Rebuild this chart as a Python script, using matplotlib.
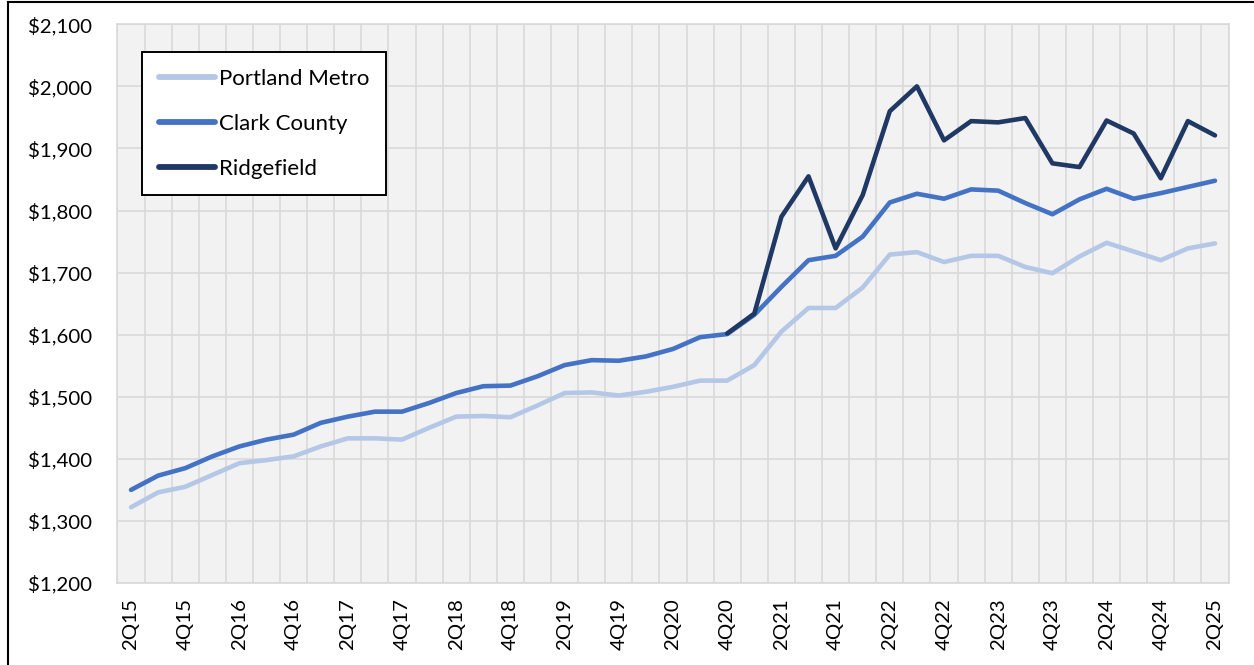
import matplotlib
matplotlib.use("Agg")
import matplotlib.pyplot as plt
from matplotlib.lines import Line2D
from matplotlib.ticker import FuncFormatter

plt.rcParams['font.family'] = ['Lato', 'DejaVu Sans']

# quarters 2Q15 .. 2Q25
quarters = []
for yr in range(15, 26):
    for q in range(1, 5):
        if (yr == 15 and q < 2) or (yr == 25 and q > 2):
            continue
        quarters.append(f"{q}Q{yr}")

portland = [1322, 1346, 1355, 1374, 1393, 1398, 1404, 1420, 1433, 1433,
            1431, 1450, 1468, 1469, 1467, 1486, 1506, 1507, 1502, 1508,
            1516, 1526, 1526, 1551, 1605, 1643, 1643, 1676, 1729, 1733,
            1717, 1727, 1727, 1709, 1699, 1726, 1748, 1734, 1720, 1739,
            1747]
clark = [1350, 1373, 1385, 1404, 1420, 1431, 1439, 1458, 1468, 1476,
         1476, 1490, 1506, 1517, 1518, 1533, 1551, 1559, 1558, 1565,
         1577, 1596, 1601, 1632, 1677, 1720, 1727, 1758, 1813, 1827,
         1819, 1834, 1832, 1812, 1794, 1818, 1835, 1819, 1828, 1838,
         1848]
# Ridgefield series starts at 4Q20
ridgefield = [1602, 1634, 1790, 1855, 1739, 1825, 1960, 2000, 1913, 1944,
              1942, 1949, 1876, 1870, 1945, 1924, 1852, 1944, 1921]

series = [("Portland Metro", portland, "#B4C7E7"),
          ("Clark County", clark, "#4472C4"),
          ("Ridgefield", ridgefield, "#203864")]

fig = plt.figure(figsize=(12.54, 6.65), dpi=100)
ax = fig.add_axes([0.0937, 0.1233, 0.886, 0.8402])
ax.set_facecolor("#F2F2F2")

x_all = list(range(len(quarters)))
for name, vals, col in series:
    xs = x_all[len(quarters) - len(vals):]
    ax.plot(xs, vals, color=col, lw=3.3, label=name,
            solid_capstyle='round', solid_joinstyle='round', zorder=3)

ax.set_xlim(-0.5, len(quarters) - 0.5)
ax.set_ylim(1200, 2100)
ax.set_yticks(range(1200, 2101, 100))
ax.yaxis.set_major_formatter(FuncFormatter(lambda v, p: f"${v:,.0f}"))

ax.set_xticks(x_all[::2])
ax.set_xticklabels(quarters[::2], rotation=90)
ax.set_xticks([i - 0.5 for i in range(len(quarters) + 1)], minor=True)

ax.grid(axis='y', which='major', color="#D9D9D9", lw=1.2)
ax.grid(axis='x', which='minor', color="#D9D9D9", lw=1.2)
ax.set_axisbelow(True)
ax.tick_params(axis='both', which='both', length=0)
ax.tick_params(axis='y', labelsize=14.7, pad=18)
ax.tick_params(axis='x', labelsize=14.7, pad=11)
for s in ax.spines.values():
    s.set_color("#D9D9D9")
    s.set_linewidth(1.2)

leg = ax.legend(loc='upper left', bbox_to_anchor=(0.022, 0.95),
                borderaxespad=0, fontsize=16, handlelength=2.55,
                handletextpad=0.18, borderpad=0.75, labelspacing=1.12,
                fancybox=False, framealpha=1, edgecolor='black')
leg.get_frame().set_linewidth(1.4)
for h in leg.get_lines():
    h.set_linewidth(4.2)

# outer chart border (left and top)
fig.add_artist(Line2D([8 / 1254, 8 / 1254], [0, 1 - 2 / 665], color='black', lw=1.5))
fig.add_artist(Line2D([8 / 1254, 1], [1 - 2 / 665, 1 - 2 / 665], color='black', lw=1.5))

fig.savefig("out.png", dpi=100)
